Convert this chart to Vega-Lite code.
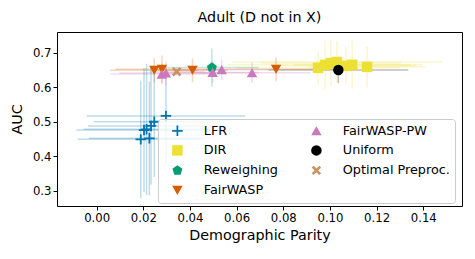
{
  "$schema": "https://vega.github.io/schema/vega-lite/v6.json",
  "autosize": {"type": "none"},
  "width": 405,
  "height": 174,
  "padding": {"left": 57, "top": 32, "right": 13, "bottom": 53},
  "title": {"text": "Adult (D not in X)", "fontSize": 14.3, "fontWeight": "normal", "color": "#000", "offset": 7, "anchor": "middle"},
  "config": {
    "font": "DejaVu Sans",
    "view": {"stroke": "#000", "strokeWidth": 1},
    "axis": {"domain": false, "grid": false, "tickColor": "#000", "tickSize": 4, "labelColor": "#000", "labelFontSize": 11.7, "titleFontSize": 14.3, "titleFontWeight": "normal", "titleColor": "#000", "labelPadding": 2}
  },
  "data": {"values": [
    {"method": "LFR", "dp": 0.0189, "auc": 0.449, "dp_lo": -0.0081, "dp_hi": 0.0459, "auc_lo": 0.279, "auc_hi": 0.619},
    {"method": "LFR", "dp": 0.0226, "auc": 0.452, "dp_lo": -0.0034, "dp_hi": 0.0486, "auc_lo": 0.287, "auc_hi": 0.617},
    {"method": "LFR", "dp": 0.0203, "auc": 0.476, "dp_lo": -0.0087, "dp_hi": 0.0493, "auc_lo": 0.296, "auc_hi": 0.656},
    {"method": "LFR", "dp": 0.0214, "auc": 0.478, "dp_lo": -0.0056, "dp_hi": 0.0484, "auc_lo": 0.288, "auc_hi": 0.668},
    {"method": "LFR", "dp": 0.0233, "auc": 0.488, "dp_lo": -0.0037, "dp_hi": 0.0503, "auc_lo": 0.318, "auc_hi": 0.658},
    {"method": "LFR", "dp": 0.0247, "auc": 0.500, "dp_lo": -0.0013, "dp_hi": 0.0507, "auc_lo": 0.340, "auc_hi": 0.660},
    {"method": "LFR", "dp": 0.0297, "auc": 0.517, "dp_lo": -0.0043, "dp_hi": 0.0637, "auc_lo": 0.377, "auc_hi": 0.657},
    {"method": "DIR", "dp": 0.0949, "auc": 0.656, "dp_lo": 0.0599, "dp_hi": 0.1299, "auc_lo": 0.606, "auc_hi": 0.706},
    {"method": "DIR", "dp": 0.0979, "auc": 0.665, "dp_lo": 0.0559, "dp_hi": 0.1399, "auc_lo": 0.595, "auc_hi": 0.735},
    {"method": "DIR", "dp": 0.1004, "auc": 0.670, "dp_lo": 0.0704, "dp_hi": 0.1304, "auc_lo": 0.605, "auc_hi": 0.735},
    {"method": "DIR", "dp": 0.1030, "auc": 0.673, "dp_lo": 0.058, "dp_hi": 0.148, "auc_lo": 0.613, "auc_hi": 0.733},
    {"method": "DIR", "dp": 0.1069, "auc": 0.662, "dp_lo": 0.0769, "dp_hi": 0.1369, "auc_lo": 0.607, "auc_hi": 0.717},
    {"method": "DIR", "dp": 0.1095, "auc": 0.665, "dp_lo": 0.0845, "dp_hi": 0.1345, "auc_lo": 0.595, "auc_hi": 0.735},
    {"method": "DIR", "dp": 0.1159, "auc": 0.659, "dp_lo": 0.0909, "dp_hi": 0.1409, "auc_lo": 0.599, "auc_hi": 0.719},
    {"method": "Reweighing", "dp": 0.0494, "auc": 0.657, "dp_lo": 0.0294, "dp_hi": 0.0694, "auc_lo": 0.602, "auc_hi": 0.712},
    {"method": "FairWASP", "dp": 0.0247, "auc": 0.649, "dp_lo": 0.0057, "dp_hi": 0.0437, "auc_lo": 0.614, "auc_hi": 0.684},
    {"method": "FairWASP", "dp": 0.0280, "auc": 0.652, "dp_lo": 0.008, "dp_hi": 0.048, "auc_lo": 0.612, "auc_hi": 0.692},
    {"method": "FairWASP", "dp": 0.0411, "auc": 0.649, "dp_lo": 0.0261, "dp_hi": 0.0561, "auc_lo": 0.614, "auc_hi": 0.684},
    {"method": "FairWASP", "dp": 0.0769, "auc": 0.652, "dp_lo": 0.0469, "dp_hi": 0.1069, "auc_lo": 0.617, "auc_hi": 0.687},
    {"method": "FairWASP-PW", "dp": 0.0279, "auc": 0.638, "dp_lo": 0.0059, "dp_hi": 0.0499, "auc_lo": 0.608, "auc_hi": 0.668},
    {"method": "FairWASP-PW", "dp": 0.0297, "auc": 0.641, "dp_lo": 0.0097, "dp_hi": 0.0497, "auc_lo": 0.606, "auc_hi": 0.676},
    {"method": "FairWASP-PW", "dp": 0.0497, "auc": 0.643, "dp_lo": 0.0297, "dp_hi": 0.0697, "auc_lo": 0.613, "auc_hi": 0.673},
    {"method": "FairWASP-PW", "dp": 0.0536, "auc": 0.651, "dp_lo": 0.0336, "dp_hi": 0.0736, "auc_lo": 0.621, "auc_hi": 0.681},
    {"method": "FairWASP-PW", "dp": 0.0666, "auc": 0.642, "dp_lo": 0.0416, "dp_hi": 0.0916, "auc_lo": 0.612, "auc_hi": 0.672},
    {"method": "Uniform", "dp": 0.1036, "auc": 0.650, "dp_lo": 0.0736, "dp_hi": 0.1336, "auc_lo": 0.612, "auc_hi": 0.688},
    {"method": "Optimal Preproc.", "dp": 0.0343, "auc": 0.645, "dp_lo": 0.0223, "dp_hi": 0.0463, "auc_lo": 0.633, "auc_hi": 0.657}
  ]},
  "encoding": {
    "color": {"field": "method", "type": "nominal", "title": null,
      "scale": {"domain": ["LFR", "DIR", "Reweighing", "FairWASP", "FairWASP-PW", "Uniform", "Optimal Preproc."],
                "range": ["#0173b2", "#ece133", "#029e73", "#d55e00", "#cc78bc", "#000000", "#ca9161"]},
      "legend": {"orient": "none", "legendX": 101, "legendY": 87, "columns": 2, "symbolSize": 110, "symbolOffset": 8, "labelOffset": 20, "labelFontSize": 12.8, "labelColor": "#000", "rowPadding": 6, "columnPadding": 24, "padding": 5, "fillColor": "rgba(255,255,255,0.8)", "strokeColor": "#cccccc", "cornerRadius": 3, "symbolOpacity": 1, "symbolStrokeWidth": 0}
    }
  },
  "layer": [
    {
      "mark": {"type": "rule", "opacity": 0.25, "strokeWidth": 1.5},
      "encoding": {
        "x": {"field": "dp_lo", "type": "quantitative"},
        "x2": {"field": "dp_hi"},
        "y": {"field": "auc", "type": "quantitative"}
      }
    },
    {
      "mark": {"type": "rule", "opacity": 0.25, "strokeWidth": 1.5},
      "encoding": {
        "x": {"field": "dp", "type": "quantitative"},
        "y": {"field": "auc_lo", "type": "quantitative"},
        "y2": {"field": "auc_hi"}
      }
    },
    {
      "mark": {"type": "point", "filled": true, "opacity": 1, "size": 110},
      "encoding": {
        "x": {"field": "dp", "type": "quantitative", "title": "Demographic Parity",
          "scale": {"domain": [-0.017, 0.1566], "nice": false, "zero": false},
          "axis": {"values": [0, 0.02, 0.04, 0.06, 0.08, 0.1, 0.12, 0.14], "format": ".2f", "titlePadding": 5}},
        "y": {"field": "auc", "type": "quantitative", "title": "AUC",
          "scale": {"domain": [0.256, 0.76], "nice": false, "zero": false},
          "axis": {"values": [0.3, 0.4, 0.5, 0.6, 0.7], "format": ".1f", "titlePadding": 8}},
        "shape": {"field": "method", "type": "nominal", "title": null,
          "scale": {"domain": ["LFR", "DIR", "Reweighing", "FairWASP", "FairWASP-PW", "Uniform", "Optimal Preproc."],
                    "range": ["M-1,-0.17H-0.17V-1H0.17V-0.17H1V0.17H0.17V1H-0.17V0.17H-1Z", "square", "M0,-1L0.951,-0.309L0.588,0.809L-0.588,0.809L-0.951,-0.309Z", "triangle-down", "triangle-up", "circle", "M-0.9,-0.55L-0.55,-0.9L0,-0.35L0.55,-0.9L0.9,-0.55L0.35,0L0.9,0.55L0.55,0.9L0,0.35L-0.55,0.9L-0.9,0.55L-0.35,0Z"]}}
      }
    }
  ]
}
